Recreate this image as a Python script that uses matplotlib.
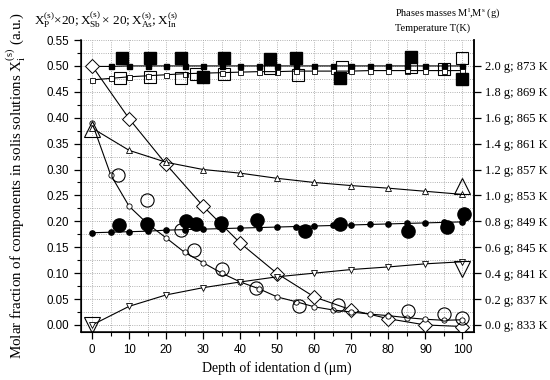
import matplotlib
matplotlib.use("Agg")
import matplotlib.pyplot as plt
import numpy as np

plt.rcParams['mathtext.fontset'] = 'custom'
plt.rcParams['mathtext.rm'] = 'Liberation Serif'
plt.rcParams['mathtext.it'] = 'Liberation Serif:italic'

# depth grid for model curves
x5 = [0, 5, 10, 15, 20, 25, 30, 35, 40, 45, 50, 55, 60, 65, 70, 75, 80, 85, 90, 95, 100]
x10 = [0, 10, 20, 30, 40, 50, 60, 70, 80, 90, 100]

# model curves (small markers with lines)
p_model = [0.499, 0.499, 0.5, 0.5, 0.5, 0.5, 0.5, 0.5, 0.5, 0.5, 0.5,
           0.5, 0.5, 0.5, 0.5, 0.5, 0.5, 0.5, 0.5, 0.5, 0.5]
sb_model = [0.473, 0.476, 0.479, 0.481, 0.483, 0.485, 0.486, 0.487, 0.488, 0.489, 0.489,
            0.490, 0.490, 0.490, 0.490, 0.491, 0.491, 0.491, 0.491, 0.491, 0.491]
as_model = [0.50, 0.398, 0.31, 0.229, 0.158, 0.099, 0.054, 0.029, 0.012, 0.0, -0.003]
in_model = [0.39, 0.29, 0.229, 0.195, 0.168, 0.14, 0.12, 0.10, 0.083, 0.07, 0.054,
            0.045, 0.035, 0.029, 0.025, 0.021, 0.018, 0.014, 0.011, 0.009, 0.01]
ml_model = [0.38, 0.337, 0.314, 0.30, 0.293, 0.283, 0.275, 0.269, 0.264, 0.258, 0.252]
ms_model = [0.0, 0.036, 0.058, 0.072, 0.083, 0.093, 0.10, 0.107, 0.112, 0.118, 0.122]
t_model = [0.178, 0.179, 0.18, 0.181, 0.183, 0.184, 0.185, 0.186, 0.187, 0.188, 0.189,
           0.19, 0.191, 0.192, 0.193, 0.194, 0.195, 0.196, 0.197, 0.198, 0.199]

# experimental points (big markers)
p_exp_x = [8, 15.5, 24, 30, 35.5, 48, 55, 67, 86, 100]
p_exp_y = [0.515, 0.516, 0.515, 0.478, 0.516, 0.514, 0.515, 0.477, 0.518, 0.475]
sb_exp_x = [7.5, 15.5, 24, 28, 35.5, 48, 55.5, 67.5, 86, 95, 100]
sb_exp_y = [0.477, 0.478, 0.477, 0.485, 0.484, 0.496, 0.482, 0.497, 0.498, 0.494, 0.516]
in_exp_x = [7, 14.8, 24, 27.5, 35, 44.2, 55.8, 66.3, 85.4, 95.1, 100]
in_exp_y = [0.29, 0.242, 0.184, 0.145, 0.108, 0.072, 0.037, 0.038, 0.027, 0.021, 0.013]
t_exp_x = [7.3, 14.8, 25.3, 28, 34.8, 44.5, 57.5, 66.8, 85.2, 95.7, 100.5]
t_exp_y = [0.192, 0.194, 0.20, 0.194, 0.196, 0.203, 0.182, 0.194, 0.182, 0.19, 0.215]
ml_exp_x = [0, 100]
ml_exp_y = [0.378, 0.268]
ms_exp_x = [0, 100]
ms_exp_y = [0.0, 0.108]

# right axis labels
masses = [0.0, 0.2, 0.4, 0.6, 0.8, 1.0, 1.2, 1.4, 1.6, 1.8, 2.0]
temps = [833, 837, 841, 845, 849, 853, 857, 861, 865, 869, 873]

fig = plt.figure(figsize=(5.5, 3.8), dpi=100)
ax = fig.add_axes([0.1473, 0.1263, 0.7138, 0.7684])

lw = 0.8
ax.plot(x5, p_model, '-s', color='k', lw=lw, ms=3.6, mfc='k', mec='k', zorder=3)
ax.plot(x5, sb_model, '-s', color='k', lw=lw, ms=3.6, mfc='white', mec='k', mew=0.6, zorder=3)
ax.plot(x10, as_model, '-D', color='k', lw=lw, ms=7.5, mfc='white', mec='k', mew=0.7, zorder=3)
ax.plot(x5, in_model, '-o', color='k', lw=lw, ms=3.8, mfc='white', mec='k', mew=0.6, zorder=3)
ax.plot(x10, ml_model, '-^', color='k', lw=lw, ms=4.5, mfc='white', mec='k', mew=0.6, zorder=3)
ax.plot(x10, ms_model, '-v', color='k', lw=lw, ms=4.5, mfc='white', mec='k', mew=0.6, zorder=3)
ax.plot(x5, t_model, '-o', color='k', lw=lw, ms=3.8, mfc='k', mec='k', zorder=3)

ax.plot(p_exp_x, p_exp_y, 's', ms=8.5, mfc='k', mec='k', ls='none', zorder=4)
ax.plot(sb_exp_x, sb_exp_y, 's', ms=8.5, mfc='none', mec='k', mew=0.8, ls='none', zorder=4)
ax.plot(in_exp_x, in_exp_y, 'o', ms=9.5, mfc='none', mec='k', mew=0.8, ls='none', zorder=4)
ax.plot(t_exp_x, t_exp_y, 'o', ms=9.5, mfc='k', mec='k', ls='none', zorder=4)
ax.plot(ml_exp_x, ml_exp_y, '^', ms=11, mfc='none', mec='k', mew=0.8, ls='none', zorder=4)
ax.plot(ms_exp_x, ms_exp_y, 'v', ms=11, mfc='none', mec='k', mew=0.8, ls='none', zorder=4)

ax.set_xlim(-3, 103)
ax.set_ylim(-0.0136, 0.55)
ax.set_xticks(x10)
ax.set_xticks(np.arange(5, 100, 10), minor=True)
ax.set_yticks(np.arange(0, 0.551, 0.05))
ax.set_yticks(np.arange(0.025, 0.55, 0.05), minor=True)
ax.set_yticklabels([f"{v:.2f}" for v in np.arange(0, 0.551, 0.05)])
ax.grid(True, which='both', ls=':', color='#999999', lw=0.6)
ax.set_axisbelow(True)
ax.spines['top'].set_visible(False)
for s in ['left', 'bottom', 'right']:
    ax.spines[s].set_linewidth(1.1)
ax.tick_params(which='major', direction='out', length=5, width=0.9,
               labelsize=8.3, right=False)
ax.tick_params(which='minor', direction='out', length=3, width=0.8)
for lab in ax.get_xticklabels() + ax.get_yticklabels():
    lab.set_family('Liberation Sans')

ax2 = ax.twinx()
ax2.set_ylim(-0.0136 * 4, 0.55 * 4)
ax2.set_yticks(masses)
ax2.set_yticklabels([f"{m:.1f} g; {t} K" for m, t in zip(masses, temps)],
                    family='Liberation Serif', fontsize=9)
ax2.tick_params(direction='out', length=5, width=0.9)
ax2.spines['top'].set_visible(False)
ax2.spines['right'].set_linewidth(1.1)

ax.set_xlabel('Depth of identation d (\u03bcm)', family='Liberation Serif',
              fontsize=10, labelpad=4)
ax.set_ylabel(r'Molar fraction of components in solis solutions X$_\mathrm{i}^{\mathrm{(s)}}$ (a.u.)',
              family='Liberation Serif', fontsize=10.8, labelpad=14)

fig.text(0.062, 0.935,
         r'$\mathrm{X_{P}^{(s)}{\times}20;X_{Sb}^{(s)}\times\,20;X_{As}^{(s)};X_{In}^{(s)}}$',
         fontsize=9.5)
fig.text(0.718, 0.958, r'Phases masses M$^\mathrm{l}$,M$^\mathrm{s}$ (g)',
         family='Liberation Serif', fontsize=7.5)
fig.text(0.718, 0.918, 'Temperature T(K)', family='Liberation Serif', fontsize=7.5)

fig.savefig('out.png', dpi=100)
